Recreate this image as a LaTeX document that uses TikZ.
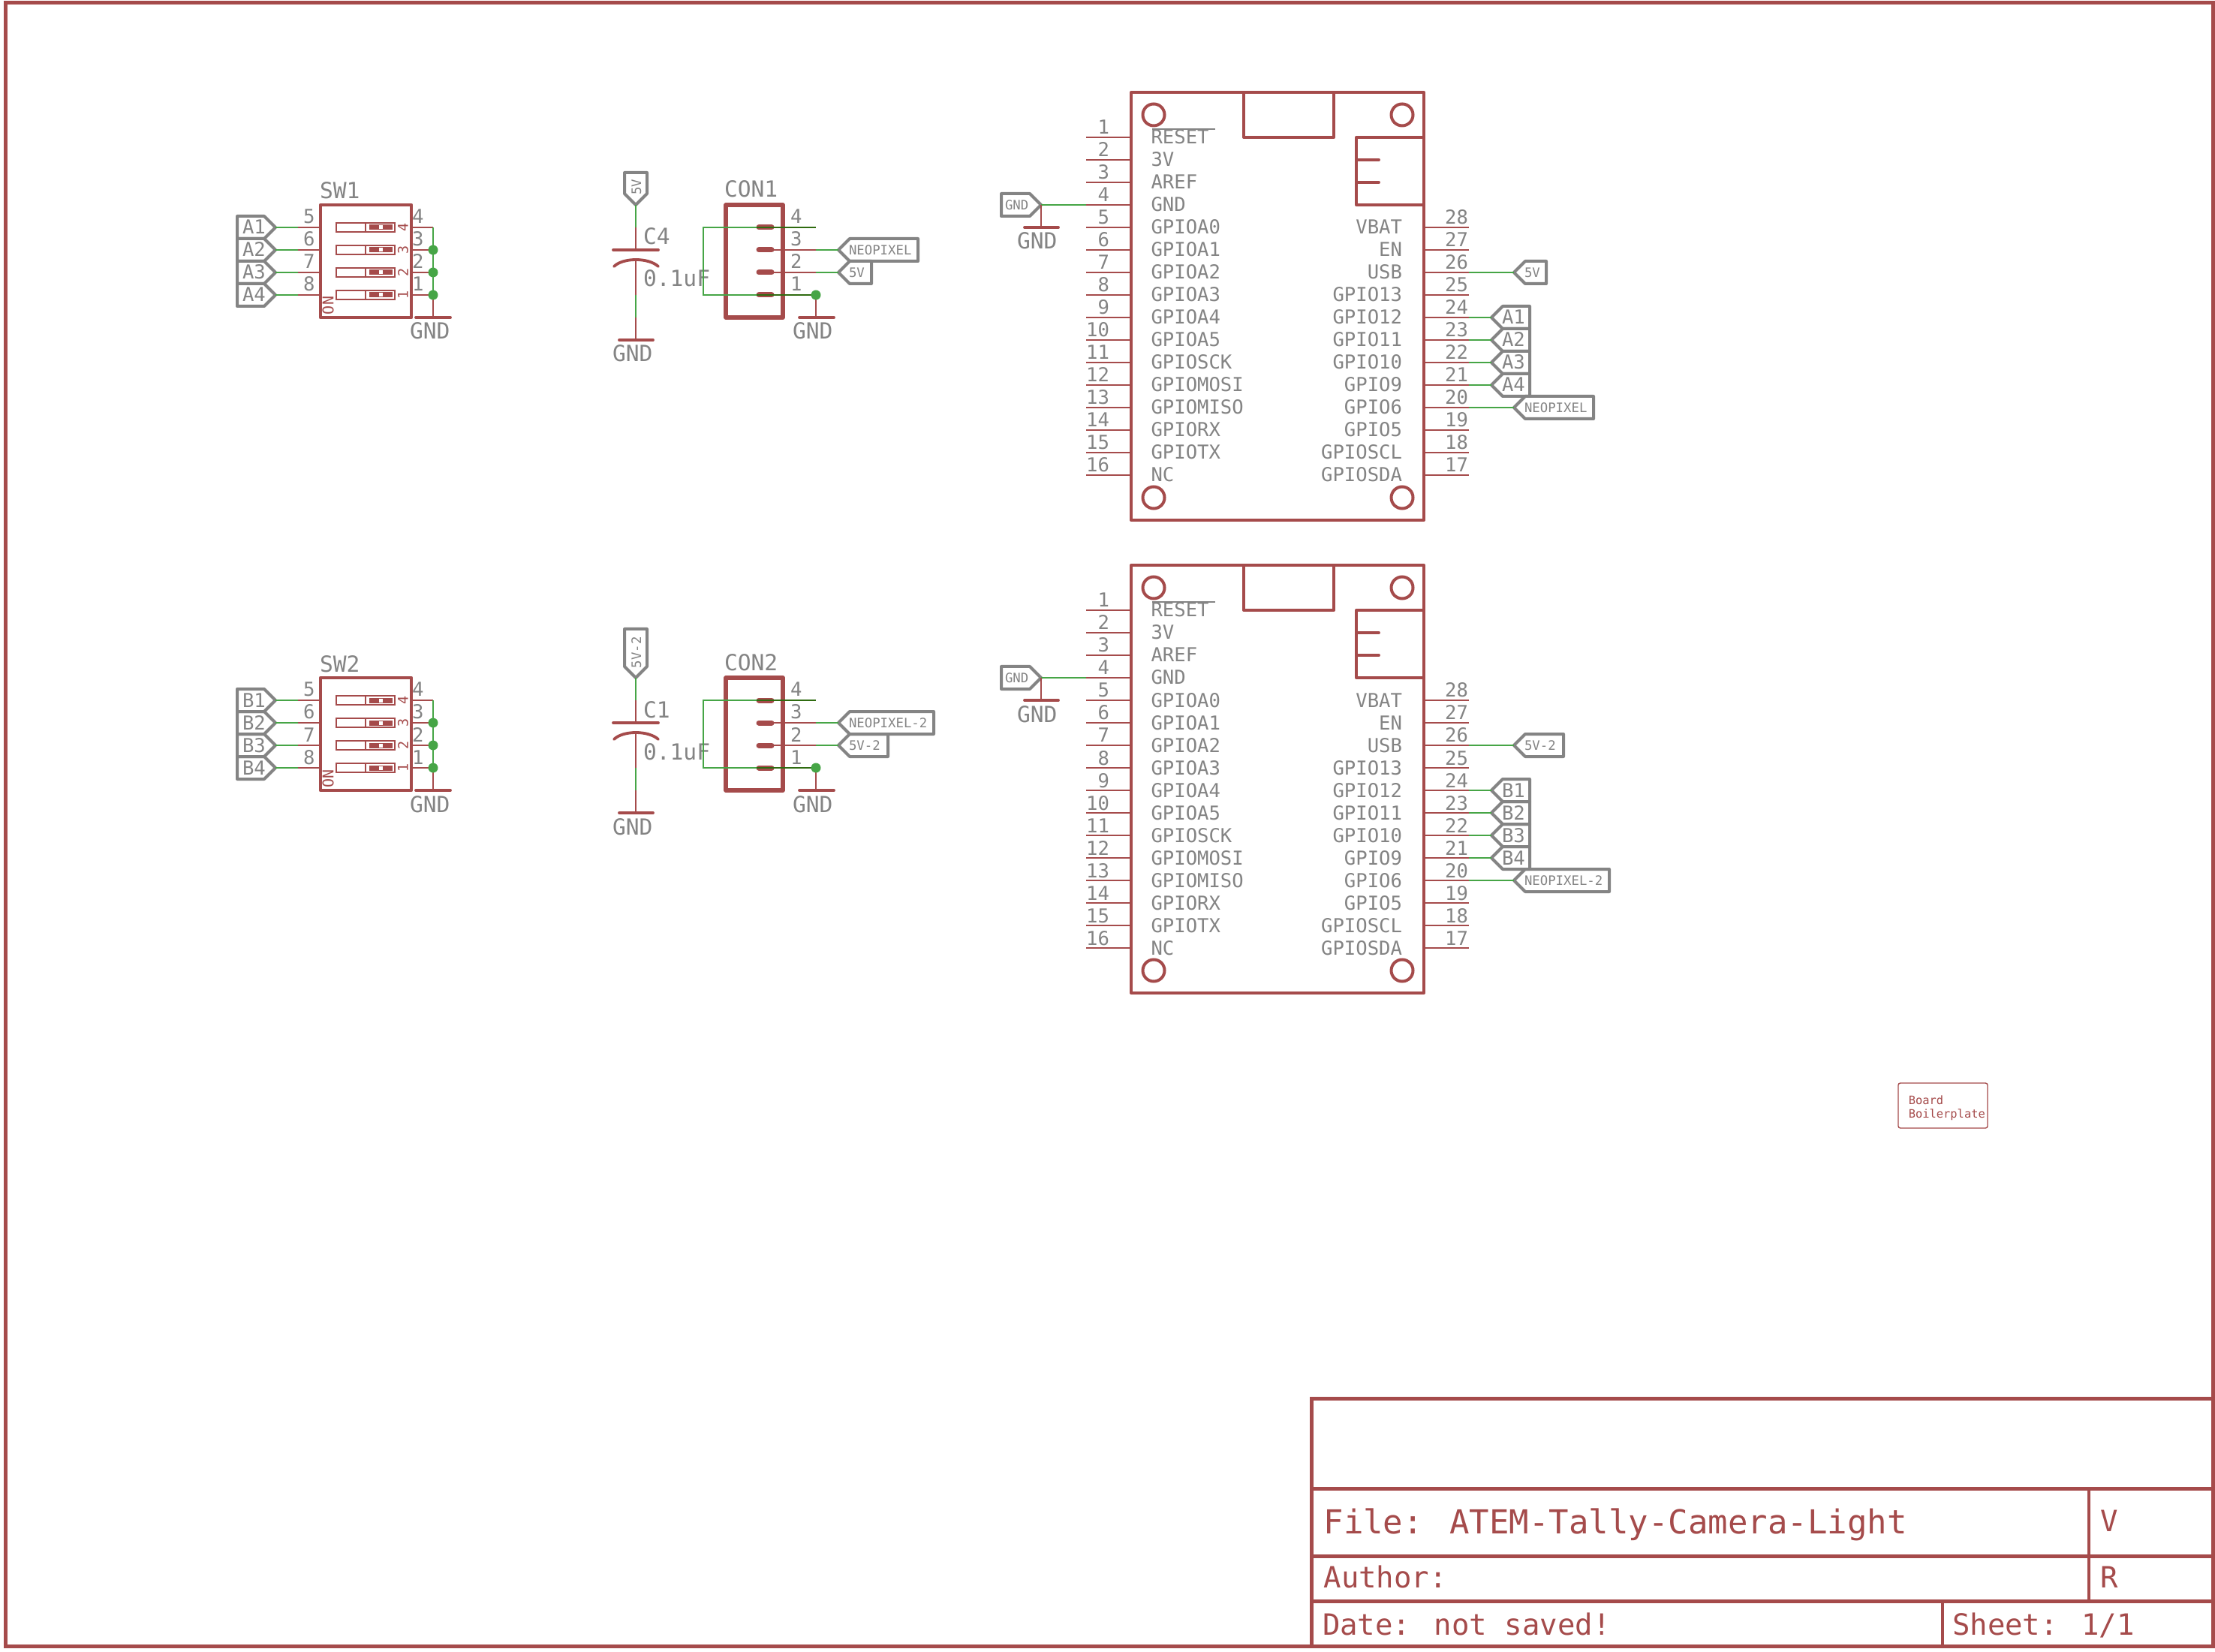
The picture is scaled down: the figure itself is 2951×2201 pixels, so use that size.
\documentclass[tikz,border=0pt]{standalone}
\usepackage{fontspec}
\newfontfamily\vecf{DejaVu Sans Mono}
\definecolor{sred}{HTML}{A54B4B}
\definecolor{sgreen}{HTML}{46A546}
\definecolor{sdark}{HTML}{2F6B10}
\definecolor{sgrey}{HTML}{848484}
\newcommand\vfS{\vecf\fontsize{4.33}{5}\selectfont}
\newcommand\vfM{\vecf\fontsize{6.4}{7}\selectfont}
\newcommand\vfL{\vecf\fontsize{7.4}{8}\selectfont}
\tikzset{
  x=0.25pt,y=-0.25pt,
  redpin/.style={draw=sred,line width=0.5pt},
  wire/.style={draw=sgreen,line width=0.5pt},
  wiredark/.style={draw=sdark,line width=0.5pt},
  bar/.style={draw=sred,line width=0.95pt,line cap=round},
  partbox/.style={draw=sred,line width=1.15pt,line join=round},
  thinbox/.style={draw=sred,line width=0.6pt},
  frameline/.style={draw=sred,line width=1.25pt},
  tagline/.style={draw=sgrey,line width=1pt,line join=round},
  txt/.style={inner sep=0pt,outer sep=0pt,text=sgrey},
  num/.style={txt,font=\vfM},
  val/.style={txt,font=\vfL},
  small/.style={txt,font=\vfS},
  dot/.style={fill=sgreen,draw=none},
  title/.style={inner sep=0pt,outer sep=0pt,text=sred,font=\vecf\fontsize{9.75}{11}\selectfont},
}
\newcommand\tagdrop{6.5}
% tag pointing left: name, tip x, y, right x, font style, text
\newcommand\eTagL[6]{%
  \coordinate (#1) at (#2,#3);
  \draw[tagline] (#2,#3) -- ({#2+15},{#3-15}) -- (#4,{#3-15}) -- (#4,{#3+15}) -- ({#2+15},{#3+15}) -- cycle;
  \node[#5,anchor=base west] (#1t) at ({#2+14},{#3+\tagdrop}) {#6};
}
% tag pointing right: name, tip x, y, left x, text
\newcommand\eTagR[5]{%
  \coordinate (#1) at (#2,#3);
  \draw[tagline] (#2,#3) -- ({#2-15},{#3-15}) -- (#4,{#3-15}) -- (#4,{#3+15}) -- ({#2-15},{#3+15}) -- cycle;
  \node[num,anchor=base west] (#1t) at ({#4+7},{#3+9}) {#5};
}
% tag pointing down: name, tip x, tip y, top y, text
\newcommand\eTagD[5]{%
  \coordinate (#1) at (#2,#3);
  \draw[tagline] (#2,#3) -- ({#2-15},{#3-15}) -- ({#2-15},#4) -- ({#2+15},#4) -- ({#2+15},{#3-15}) -- cycle;
  \node[small,anchor=base west,rotate=90] (#1t) at ({#2+7},{#3-13}) {#5};
}
% DIP switch: offset, prefix, name, letter
\newcommand\dipsw[4]{%
\begin{scope}[shift={(0,#1)}]
  \draw[partbox] (427,273) rectangle (548,423);
  \node[val,anchor=base west] (#2name) at (426,265) {#3};
  \foreach \kk/\lf/\rt [count=\i from 0] in {1/5/4,2/6/3,3/7/2,4/8/1} {
    \pgfmathsetmacro\yy{303+30*\i}
    \coordinate (#2lp\kk) at (397,\yy);
    \coordinate (#2le\kk) at (427,\yy);
    \coordinate (#2rp\kk) at (548,\yy);
    \coordinate (#2re\kk) at (577,\yy);
    \draw[redpin] (#2lp\kk) -- (#2le\kk);
    \draw[redpin] (#2rp\kk) -- (#2re\kk);
    \node[num,anchor=base west] (#2dl\kk) at (404,\yy-5) {\lf};
    \node[num,anchor=base west] (#2dr\kk) at (549,\yy-5) {\rt};
    \draw[draw=sred,line width=0.5pt] (448,\yy-6) rectangle (526,\yy+6);
    \draw[draw=sred,line width=0.5pt] (487,\yy-6) -- (487,\yy+6);
    \fill[sred] (492,\yy-3.5) rectangle (523,\yy+3.5);
    \fill[white] (505,\yy-2.5) rectangle (510,\yy+2.5);
    \node[inner sep=0pt,text=sred,font=\vecf\fontsize{4.6}{5}\selectfont,rotate=90] (#2sw\kk) at (537,\yy) {\rt};
    \eTagR{#2tag\kk}{367}{\yy}{316}{#4\kk}
    \draw[wire] (#2tag\kk) -- (#2lp\kk);
  }
  \node[inner sep=0pt,text=sred,font=\vecf\fontsize{5}{6}\selectfont,rotate=90] (#2on) at (437,407) {ON};
  \coordinate (#2g) at (577,423);
  \draw[redpin] (#2re4) -- (#2g);
  \draw[bar] (554,423) -- (600,423);
  \draw[wire] (#2re1) -- (#2re4);
  \fill[dot] (#2re2) circle (6.5);
  \fill[dot] (#2re3) circle (6.5);
  \fill[dot] (#2re4) circle (6.5);
  \node[val,anchor=base west] (#2gnd) at (546,452) {GND};
\end{scope}}
% capacitor: offset, prefix, name, tag top, tag text
\newcommand\capac[5]{%
\begin{scope}[shift={(0,#1)}]
  \eTagD{#2tag}{847}{273}{#4}{#5}
  \coordinate (#2a) at (847,303);
  \coordinate (#2p1) at (847,333);
  \coordinate (#2p2) at (847,344);
  \coordinate (#2b) at (847,393);
  \coordinate (#2c) at (847,423);
  \coordinate (#2g) at (847,453);
  \draw[wire] (#2tag) -- (#2a);
  \draw[redpin] (#2a) -- (#2p1);
  \draw[bar] (817,333) -- (877,333);
  \draw[bar] (818,355) .. controls (830,343) and (864,343) .. (877,355);
  \draw[redpin] (#2p2) -- (#2b);
  \draw[wire] (#2b) -- (#2c);
  \draw[redpin] (#2c) -- (#2g);
  \draw[bar] (825,453) -- (870,453);
  \node[val,anchor=base west] (#2name) at (857,326) {#3};
  \node[val,anchor=base west] (#2val) at (857,382) {0.1uF};
  \node[val,anchor=base west] (#2gnd) at (816,482) {GND};
\end{scope}}
% connector: offset, prefix, name, right of neopixel tag, right of 5V tag, neo text, 5V text
\newcommand\hdr[7]{%
\begin{scope}[shift={(0,#1)}]
  \foreach \kk [count=\i from 0] in {4,3,2,1} {
    \pgfmathsetmacro\yy{303+30*\i}
    \coordinate (#2p\kk) at (1087,\yy);
    \coordinate (#2q\kk) at (1008,\yy);
    \draw[draw=sred,line width=1.75pt,line cap=round] (1011,\yy) -- (1028,\yy);
    \draw[redpin] (1028,\yy) -- (#2p\kk);
    \node[num,anchor=base west] (#2d\kk) at (1053,\yy-5) {\kk};
  }
  \draw[partbox,line width=1.3pt] (967,273) rectangle (1043,423);
  \node[val,anchor=base west] (#2name) at (965,263) {#3};
  \coordinate (#2l4) at (937,303);
  \coordinate (#2l1) at (937,393);
  \draw[wire] (#2q4) -- (#2l4) -- (#2l1) -- (#2q1);
  \draw[wiredark] (#2q4) -- (#2p4);
  \draw[wiredark] (#2q1) -- (#2p1);
  \eTagL{#2neo}{1117}{333}{#4}{small}{#6}
  \eTagL{#2fv}{1117}{363}{#5}{small}{#7}
  \draw[wire] (#2p3) -- (#2neo);
  \draw[wire] (#2p2) -- (#2fv);
  \coordinate (#2g) at (1087,423);
  \draw[redpin] (#2p1) -- (#2g);
  \draw[bar] (1065,423) -- (1111,423);
  \fill[dot] (#2p1) circle (6.5);
  \node[val,anchor=base west] (#2gnd) at (1056,452) {GND};
\end{scope}}
% Feather module: offset, prefix, letter, 5V right, 5V text, neo right, neo text
\newcommand\feather[7]{%
\begin{scope}[shift={(0,#1)}]
  \draw[partbox,line width=1pt] (1507,123) rectangle (1897,693);
  \draw[partbox,line width=1pt] (1657,123) -- (1657,183) -- (1777,183) -- (1777,123);
  \draw[partbox,line width=1pt] (1897,183) -- (1807,183) -- (1807,273) -- (1897,273);
  \draw[bar] (1807,213) -- (1837,213);
  \draw[bar] (1807,243) -- (1837,243);
  \foreach \cx/\cy in {1537/153,1868/153,1537/663,1868/663} \draw[draw=sred,line width=1pt] (\cx,\cy) circle (14.5);
  \foreach \n/\lab [count=\i from 0] in {1/RESET,2/3V,3/AREF,4/GND,5/GPIOA0,6/GPIOA1,7/GPIOA2,8/GPIOA3,9/GPIOA4,10/GPIOA5,11/GPIOSCK,12/GPIOMOSI,13/GPIOMISO,14/GPIORX,15/GPIOTX,16/NC} {
    \pgfmathsetmacro\yy{183+30*\i}
    \coordinate (#2a\n) at (1507,\yy);
    \coordinate (#2b\n) at (1447,\yy);
    \draw[redpin] (#2a\n) -- (#2b\n);
    \node[num,anchor=base east] (#2n\n) at (1478,\yy-4) {\n};
    \node[num,anchor=base west] (#2l\n) at (1533.5,\yy+9) {\lab};
  }
  \draw[draw=sgrey,line width=0.5pt] (1535,172) -- (1619,172);
  \foreach \n/\lab [count=\i from 0] in {28/VBAT,27/EN,26/USB,25/GPIO13,24/GPIO12,23/GPIO11,22/GPIO10,21/GPIO9,20/GPIO6,19/GPIO5,18/GPIOSCL,17/GPIOSDA} {
    \pgfmathsetmacro\yy{303+30*\i}
    \coordinate (#2a\n) at (1897,\yy);
    \coordinate (#2b\n) at (1957,\yy);
    \draw[redpin] (#2a\n) -- (#2b\n);
    \node[num,anchor=base east] (#2n\n) at (1956,\yy-4) {\n};
    \node[num,anchor=base east] (#2l\n) at (1868,\yy+9) {\lab};
  }
  % GND tag
  \coordinate (#2gt) at (1387,273);
  \draw[tagline] (#2gt) -- (1372,258) -- (1334,258) -- (1334,288) -- (1372,288) -- cycle;
  \node[small,anchor=base west] (#2gtt) at (1339,279.5) {GND};
  \draw[wire] (#2gt) -- (#2b4);
  \coordinate (#2gg) at (1387,303);
  \draw[redpin] (#2gt) -- (#2gg);
  \draw[bar] (1365,303) -- (1410,303);
  \node[val,anchor=base west] (#2gnd) at (1355,332) {GND};
  % right tags
  \eTagL{#2fv}{2017}{363}{#4}{small}{#5}
  \draw[wire] (#2b26) -- (#2fv);
  \eTagL{#2neo}{2017}{543}{#6}{small}{#7}
  \draw[wire] (#2b20) -- (#2neo);
  \renewcommand\tagdrop{9}
  \eTagL{#2s1}{1987}{423}{2038}{num}{#31}
  \eTagL{#2s2}{1987}{453}{2038}{num}{#32}
  \eTagL{#2s3}{1987}{483}{2038}{num}{#33}
  \eTagL{#2s4}{1987}{513}{2038}{num}{#34}
  \renewcommand\tagdrop{6.5}
  \draw[wire] (#2b24) -- (#2s1);
  \draw[wire] (#2b23) -- (#2s2);
  \draw[wire] (#2b22) -- (#2s3);
  \draw[wire] (#2b21) -- (#2s4);
\end{scope}}
\begin{document}
\begin{tikzpicture}
\useasboundingbox (0,0) rectangle (2951,2201);
\fill[white] (0,0) rectangle (2951,2201);
% frame
\draw[frameline] (7.5,3.5) rectangle (2948.5,2193.5);
% title block
\draw[frameline] (1747,2193.5) -- (1747,1863) -- (2948.5,1863);
\draw[frameline] (1747,1983) -- (2948.5,1983);
\draw[frameline] (1747,2073) -- (2948.5,2073);
\draw[frameline] (1747,2133) -- (2948.5,2133);
\draw[thinbox,line width=0.85pt] (2783,1983) -- (2783,2133);
\draw[thinbox,line width=0.85pt] (2588,2133) -- (2588,2193.5);
\node[title,font=\vecf\fontsize{11}{12}\selectfont,anchor=base west] (tfile) at (1763.5,2043) {File: ATEM-Tally-Camera-Light};
\node[title,anchor=base west] (tv) at (2798,2040) {V};
\node[title,anchor=base west] (tauth) at (1763.5,2115) {Author:};
\node[title,anchor=base west] (tr) at (2798,2115) {R};
\node[title,anchor=base west] (tdate) at (1762,2178) {Date: not saved!};
\node[title,anchor=base west] (tsheet) at (2601,2178) {Sheet: 1/1};
% board boilerplate
\draw[draw=sred,line width=0.35pt,rounded corners=0.7pt] (2529,1443) rectangle (2648,1503);
\node[inner sep=0pt,text=sred,font=\vecf\fontsize{3.85}{4.5}\selectfont,anchor=base west] (bb1) at (2542,1471) {Board};
\node[inner sep=0pt,text=sred,font=\vecf\fontsize{3.85}{4.5}\selectfont,anchor=base west] (bb2) at (2542,1489) {Boilerplate};
% parts
\dipsw{0}{sa}{SW1}{A}
\dipsw{630}{sb}{SW2}{B}
\capac{0}{ca}{C4}{230}{5V}
\capac{630}{cb}{C1}{208}{5V-2}
\hdr{0}{ha}{CON1}{1223}{1161}{NEOPIXEL}{5V}
\hdr{630}{hb}{CON2}{1244}{1183}{NEOPIXEL-2}{5V-2}
\feather{0}{ua}{A}{2060}{5V}{2123}{NEOPIXEL}
\feather{630}{ub}{B}{2083}{5V-2}{2144}{NEOPIXEL-2}
\end{tikzpicture}
\end{document}
